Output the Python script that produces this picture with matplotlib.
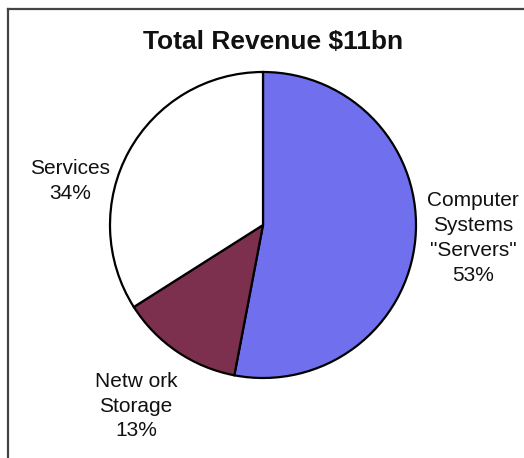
import matplotlib.pyplot as plt

plt.rcParams['font.family'] = ['Liberation Sans', 'DejaVu Sans']

# revenue split, in percent
segments = ['Computer\nSystems\n"Servers"', 'Netw ork\nStorage', 'Services']
shares = [53, 13, 34]
colors = ['#7070EE', '#7D2F4E', '#FFFFFF']

fig = plt.figure(figsize=(5.24, 4.58), dpi=100)
ax = fig.add_axes([0, 0, 1, 1])

ax.pie(shares, colors=colors, startangle=90, counterclock=False,
       center=(263, 233), radius=153, frame=True,
       wedgeprops=dict(edgecolor='black', linewidth=1.6))
ax.set_xlim(0, 524)
ax.set_ylim(0, 458)
ax.set_aspect('equal')
ax.axis('off')

# chart frame (top and left edges)
ax.plot([8, 524], [449, 449], color='#444444', lw=1.6, clip_on=False)
ax.plot([8, 8], [0, 449], color='#444444', lw=1.6, clip_on=False)

ax.text(273, 416, 'Total Revenue $11bn', ha='center', va='center',
        fontsize=19, fontweight='bold', color='#111111')

label_pos = [(473, 220), (136, 52), (70, 277)]
for name, val, (x, y) in zip(segments, shares, label_pos):
    ax.text(x, y, f'{name}\n{val}%', ha='center', va='center',
            fontsize=15, linespacing=1.38, color='#111111')

fig.savefig('out.png', dpi=100)
